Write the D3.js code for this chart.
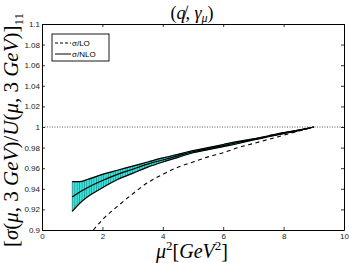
<!DOCTYPE html>
<html><head><meta charset="utf-8">
<script src="https://cdn.jsdelivr.net/npm/d3@7"></script>
<style>body{margin:0;background:#fff}svg{display:block}</style>
</head><body>
<script>
const nloX     = [1, 1.25, 1.5, 2, 2.5, 3, 3.5, 4, 4.5, 5, 5.5, 6, 6.5, 7, 7.5, 8, 8.5, 9];
const nloMid   = [0.932, 0.937, 0.941, 0.948, 0.954, 0.959, 0.964, 0.968, 0.972, 0.976, 0.979, 0.982, 0.985, 0.988, 0.991, 0.994, 0.997, 1.0];
const nloUpper = [0.947, 0.947, 0.949, 0.954, 0.958, 0.962, 0.966, 0.970, 0.9735, 0.977, 0.980, 0.983, 0.986, 0.9885, 0.9915, 0.9945, 0.997, 1.0];
const nloLower = [0.918, 0.926, 0.932, 0.941, 0.949, 0.955, 0.961, 0.966, 0.9705, 0.975, 0.978, 0.981, 0.984, 0.9875, 0.9905, 0.9935, 0.9965, 1.0];
const loX      = [1.7, 2, 2.5, 3, 3.5, 4, 4.5, 5, 5.5, 6, 6.5, 7, 7.5, 8, 8.5, 9];
const loY      = [0.9, 0.910, 0.923, 0.935, 0.946, 0.954, 0.961, 0.966, 0.971, 0.975, 0.980, 0.984, 0.988, 0.992, 0.996, 1.0];
const xTicks = [0, 2, 4, 6, 8, 10];
const yTicks = [0.9, 0.92, 0.94, 0.96, 0.98, 1, 1.02, 1.04, 1.06, 1.08, 1.1];
const refLine = 1;
const legendLabels = ["σ/LO", "σ/NLO"];

const W = 349, H = 263;
const m = {l: 42, r: 5, t: 24, b: 33};
const svg = d3.select("body").append("svg").attr("width", W).attr("height", H);
const x = d3.scaleLinear().domain([0, 10]).range([m.l, W - m.r]);
const y = d3.scaleLinear().domain([0.9, 1.1]).range([H - m.b, m.t]);

// hatch pattern
const defs = svg.append("defs");
const pat = defs.append("pattern").attr("id", "hatch").attr("patternUnits", "userSpaceOnUse")
  .attr("width", 2.4).attr("height", 10);
pat.append("rect").attr("width", 2.4).attr("height", 10).attr("fill", "#3fe3da");
pat.append("rect").attr("width", 0.8).attr("height", 10).attr("fill", "#1c9e9a");

const curve = d3.curveMonotoneX;
const band = nloX.map((v, i) => ({x: v, lo: nloLower[i], hi: nloUpper[i], mid: nloMid[i]}));
svg.append("path").datum(band)
  .attr("d", d3.area().x(d => x(d.x)).y0(d => y(d.lo)).y1(d => y(d.hi)).curve(curve))
  .attr("fill", "url(#hatch)").attr("stroke", "#1c9e9a").attr("stroke-width", 0.6);
["lo", "hi", "mid"].forEach(k => {
  svg.append("path").datum(band)
    .attr("d", d3.line().x(d => x(d.x)).y(d => y(d[k])).curve(curve))
    .attr("fill", "none").attr("stroke", "#000").attr("stroke-width", 1.2);
});

// LO dashed
svg.append("path").datum(loX.map((v, i) => ({x: v, y: loY[i]})))
  .attr("d", d3.line().x(d => x(d.x)).y(d => y(d.y)).curve(curve))
  .attr("fill", "none").attr("stroke", "#000").attr("stroke-width", 1.1)
  .attr("stroke-dasharray", "4,3.5");

// reference dotted line
svg.append("line").attr("x1", x(0)).attr("x2", x(10)).attr("y1", y(refLine)).attr("y2", y(refLine))
  .attr("stroke", "#555").attr("stroke-width", 1).attr("stroke-dasharray", "1,1.5");

// axes
const fmt = d => d3.format("")(+d.toFixed(2));
const tickFont = "Helvetica, Arial, 'Liberation Sans', sans-serif";
const axB = svg.append("g").attr("transform", `translate(0,${y(0.9)})`)
  .call(d3.axisBottom(x).tickValues(xTicks).tickSize(-3).tickSizeOuter(0).tickPadding(5).tickFormat(fmt));
const axT = svg.append("g").attr("transform", `translate(0,${y(1.1)})`)
  .call(d3.axisTop(x).tickValues(xTicks).tickSize(-3).tickSizeOuter(0).tickFormat(""));
const axL = svg.append("g").attr("transform", `translate(${x(0)},0)`)
  .call(d3.axisLeft(y).tickValues(yTicks).tickSize(-3).tickSizeOuter(0).tickPadding(2).tickFormat(fmt));
const axR = svg.append("g").attr("transform", `translate(${x(10)},0)`)
  .call(d3.axisRight(y).tickValues(yTicks).tickSize(-3).tickSizeOuter(0).tickFormat(""));
[axB, axT, axL, axR].forEach(g => {
  g.selectAll("path.domain").attr("stroke", "#000").attr("stroke-width", 1);
  g.selectAll(".tick line").attr("stroke", "#000").attr("stroke-width", 0.8);
  g.selectAll("text").attr("font-family", tickFont).attr("font-size", 8).attr("fill", "#222");
});
axB.selectAll("text").attr("dy", "0.5em");

// legend
const lg = svg.append("g").attr("transform", `translate(52,34)`);
lg.append("rect").attr("width", 57).attr("height", 27).attr("fill", "#fff").attr("stroke", "#000").attr("stroke-width", 0.9);
legendLabels.forEach((t, i) => {
  const yy = 9 + i * 11;
  lg.append("line").attr("x1", 3).attr("x2", 19).attr("y1", yy).attr("y2", yy)
    .attr("stroke", "#000").attr("stroke-width", 1)
    .attr("stroke-dasharray", i === 0 ? "3,2" : null);
  lg.append("text").attr("x", 20).attr("y", yy + 3).text(t)
    .attr("font-family", tickFont).attr("font-size", 8);
});

// title
const title = svg.append("text").attr("x", 192).attr("y", 19).attr("text-anchor", "middle")
  .attr("font-family", "'Liberation Serif', serif").attr("font-size", 18);
title.append("tspan").text("(");
title.append("tspan").attr("font-style", "italic").text("q\u0338");
title.append("tspan").text(", ");
title.append("tspan").attr("font-style", "italic").text("γ");
title.append("tspan").attr("font-style", "italic").attr("font-size", 12).attr("dy", 3).text("μ");
title.append("tspan").attr("dy", -3).text(")");

// x label
const xl = svg.append("text").attr("x", 192).attr("y", 258).attr("text-anchor", "middle")
  .attr("font-family", "'Liberation Serif', serif").attr("font-size", 20);
xl.append("tspan").attr("font-style", "italic").text("μ");
xl.append("tspan").attr("font-size", 13).attr("dy", -8).text("2");
xl.append("tspan").attr("dy", 8).text("[");
xl.append("tspan").attr("font-style", "italic").text("GeV");
xl.append("tspan").attr("font-size", 13).attr("dy", -8).text("2");
xl.append("tspan").attr("dy", 8).text("]");

// y label
const yl = svg.append("text").attr("transform", "translate(18,130) rotate(-90)").attr("text-anchor", "middle")
  .attr("font-family", "'Liberation Serif', serif").attr("font-size", 21);
yl.append("tspan").text("[");
yl.append("tspan").attr("font-style", "italic").text("σ");
yl.append("tspan").text("(");
yl.append("tspan").attr("font-style", "italic").text("μ");
yl.append("tspan").text(", 3 ");
yl.append("tspan").attr("font-style", "italic").text("GeV");
yl.append("tspan").text(")/");
yl.append("tspan").attr("font-style", "italic").text("U");
yl.append("tspan").text("(");
yl.append("tspan").attr("font-style", "italic").text("μ");
yl.append("tspan").text(", 3 ");
yl.append("tspan").attr("font-style", "italic").text("GeV");
yl.append("tspan").text(")]");
yl.append("tspan").attr("font-size", 13).attr("dy", 5).text("11");
</script>
</body></html>
